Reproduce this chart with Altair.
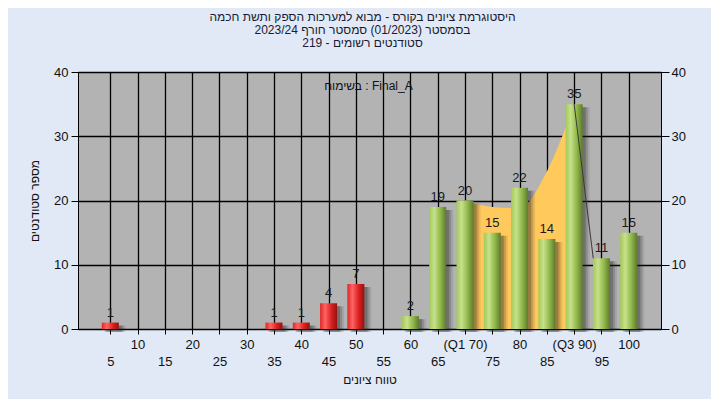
import altair as alt
import pandas as pd

FONT = "Liberation Sans"

grades = [5, 10, 15, 20, 25, 30, 35, 40, 45, 50, 55, 60, 65, 70, 75, 80, 85, 90, 95, 100]
counts = [1, 0, 0, 0, 0, 0, 1, 1, 4, 7, 0, 2, 19, 20, 15, 22, 14, 35, 11, 15]
fail_limit = 50

band_x = [70, 75, 80, 85, 90]
band_y = [20, 19, 18.8, 24.5, 35]

drop_x = [90, 93.5]
drop_y = [35, 11]

info_label = ["בשימוח : Final_A"]
info_x = [52.3]
info_y = [37.8]

title_lines = [
    "היסטוגרמת ציונים בקורס - מבוא למערכות הספק ותשת חכמה",
    "בסמסטר  (01/2023)  סמסטר חורף  2023/24",
    "סטודנטים רשומים - 219",
]
x_title = "טווח ציונים"
y_title = "מספר סטודנטים"

bars = pd.DataFrame({"grade": grades, "count": counts})
bars["label"] = [str(c) if c > 0 else "" for c in counts]
band = pd.DataFrame({"grade": band_x, "count": band_y})
drop = pd.DataFrame({"grade": drop_x, "count": drop_y})
info = pd.DataFrame({"grade": info_x, "count": info_y, "label": info_label})

xs = alt.Scale(domain=[0, 105], nice=False, zero=False)
ys = alt.Scale(domain=[0, 40], nice=False)

x_axis = alt.Axis(
    values=grades,
    labelExpr="datum.value % 10 == 5 ? ['', datum.label] : (datum.value == 70 ? '(Q1 70)' : (datum.value == 90 ? '(Q3 90)' : datum.label))",
    tickSize=5, labelPadding=4, labelLineHeight=17, labelOverlap=False, labelFlush=False,
    labelAngle=0, title=x_title, titlePadding=6, grid=True,
)
y_axis = alt.Axis(values=[0, 10, 20, 30, 40], tickSize=7, labelPadding=3,
                  title=y_title, titlePadding=12, grid=True)
y_axis_r = alt.Axis(values=[0, 10, 20, 30, 40], tickSize=8, labelPadding=2,
                    orient="right", title="", grid=False)

X = alt.X("grade:Q", scale=xs, axis=x_axis)
Y = alt.Y("count:Q", scale=ys, axis=None)
Y_left = alt.Y("count:Q", scale=ys, axis=y_axis)
Y_right = alt.Y("count:Q", scale=ys, axis=y_axis_r)

green = alt.Gradient(gradient="linear", x1=0, x2=1, y1=0, y2=0, stops=[
    alt.GradientStop(color="#a3c957", offset=0),
    alt.GradientStop(color="#c6e18b", offset=0.3),
    alt.GradientStop(color="#92b84b", offset=0.65),
    alt.GradientStop(color="#5c7b2b", offset=1),
])
red = alt.Gradient(gradient="linear", x1=0, x2=1, y1=0, y2=0, stops=[
    alt.GradientStop(color="#dd2626", offset=0),
    alt.GradientStop(color="#ff6464", offset=0.3),
    alt.GradientStop(color="#dc2222", offset=0.65),
    alt.GradientStop(color="#951010", offset=1),
])

area = alt.Chart(band).mark_area(color="#ffc95c", interpolate="monotone").encode(x=X, y=Y_left)

shadows = []
for off, op in [(3, 0.25), (5, 0.18), (7, 0.1)]:
    shadows.append(
        alt.Chart(bars).transform_filter("datum.count > 0").mark_bar(
            orient="vertical", size=17, color="#202020", opacity=op, xOffset=off, yOffset=3
        ).encode(x=X, y=Y)
    )

red_bars = alt.Chart(bars).transform_filter(f"datum.grade <= {fail_limit}").mark_bar(
    orient="vertical", size=17, color=red
).encode(x=X, y=Y)
green_bars = alt.Chart(bars).transform_filter(f"datum.grade > {fail_limit}").mark_bar(
    orient="vertical", size=17, color=green
).encode(x=X, y=Y)

line = alt.Chart(drop).mark_line(color="#3a3a3a", strokeWidth=1).encode(x=X, y=Y_right)

labels = alt.Chart(bars).mark_text(
    baseline="bottom", dy=-3, font=FONT, fontSize=13, color="#1a1a1a"
).encode(x=X, y=Y, text="label:N")

info_text = alt.Chart(info).mark_text(font=FONT, fontSize=12, color="#111111").encode(
    x=X, y=Y, text="label:N"
)

chart = alt.layer(area, *shadows, red_bars, green_bars, line, labels, info_text).resolve_axis(
    y="independent"
).properties(
    width=583, height=257,
    autosize=alt.AutoSizeParams(type="none"),
    padding={"left": 70, "top": 64, "right": 50, "bottom": 70},
    background="#e0e9f5",
    title=alt.Title(text=title_lines, font=FONT, fontSize=12, fontWeight="normal",
                    color="#1a1a33", anchor="middle", offset=16, lineHeight=13, dx=-7),
).configure_view(
    fill="#b3b3b3", stroke="black", strokeWidth=1
).configure_axis(
    domainColor="black", tickColor="black", gridColor="black", gridWidth=1.3,
    labelFont=FONT, labelFontSize=13, labelColor="#111111",
    titleFont=FONT, titleFontSize=12, titleFontWeight="normal", titleColor="#111111",
)

chart.save("out.html", embed_options={"renderer": "svg", "actions": False})
